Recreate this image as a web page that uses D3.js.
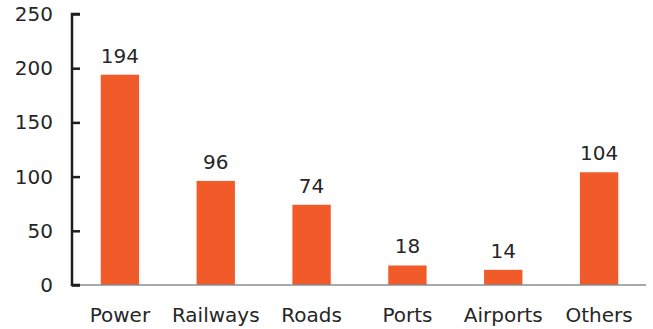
<!DOCTYPE html>
<html>
<head>
<meta charset="utf-8">
<script src="https://cdn.jsdelivr.net/npm/d3@7"></script>
<style>
  html, body { margin: 0; padding: 0; background: #fff; }
  svg { display: block; font-family: "DejaVu Sans", Verdana, sans-serif; }
</style>
</head>
<body>
<svg id="chart" width="653" height="329"></svg>
<script>
const categories = ["Power", "Railways", "Roads", "Ports", "Airports", "Others"];
const values = [194, 96, 74, 18, 14, 104];
const yTicks = [0, 50, 100, 150, 200, 250];

const svg = d3.select("#chart");
const margin = { left: 72, right: 6, top: 14, bottom: 44 };
const W = 653, H = 329;
const fontSize = 20;
const textColor = "#262626";

const x = d3.scaleBand()
  .domain(categories)
  .range([margin.left, W - margin.right])
  .paddingInner(0.6)
  .paddingOuter(0.3);

const y = d3.scaleLinear()
  .domain([0, 250])
  .range([H - margin.bottom, margin.top]);

// bars
svg.append("g")
  .selectAll("rect")
  .data(values)
  .join("rect")
  .attr("x", (d, i) => x(categories[i]))
  .attr("y", d => y(d))
  .attr("width", x.bandwidth())
  .attr("height", d => y(0) - y(d))
  .attr("fill", "#F15A29");

// value labels
svg.append("g")
  .selectAll("text")
  .data(values)
  .join("text")
  .attr("x", (d, i) => x(categories[i]) + x.bandwidth() / 2)
  .attr("y", d => y(d) - 12)
  .attr("text-anchor", "middle")
  .attr("font-size", fontSize)
  .attr("fill", textColor)
  .text(d => d);

// baseline
svg.append("line")
  .attr("x1", margin.left).attr("x2", W - 7)
  .attr("y1", y(0)).attr("y2", y(0))
  .attr("stroke", "#8c8c8c")
  .attr("stroke-width", 1.5);

// y axis with ticks pointing into the plot
const yAxis = d3.axisRight(y)
  .tickValues(yTicks)
  .tickSize(8)
  .tickFormat(() => "");
const gy = svg.append("g")
  .attr("transform", `translate(${margin.left},0)`)
  .call(yAxis);
gy.select(".domain").attr("stroke", "#1f1f1f").attr("stroke-width", 2.5)
  .attr("d", `M8,${y(250)}H0V${y(0)}H8`);
gy.selectAll(".tick line").attr("stroke", "#1f1f1f").attr("stroke-width", 2.5);

// y tick labels
svg.append("g")
  .selectAll("text")
  .data(yTicks)
  .join("text")
  .attr("x", margin.left - 19)
  .attr("y", d => y(d))
  .attr("dy", "0.35em")
  .attr("text-anchor", "end")
  .attr("font-size", fontSize)
  .attr("fill", textColor)
  .text(d => d);

// category labels
svg.append("g")
  .selectAll("text")
  .data(categories)
  .join("text")
  .attr("x", d => x(d) + x.bandwidth() / 2)
  .attr("y", 322)
  .attr("text-anchor", "middle")
  .attr("font-size", fontSize)
  .attr("fill", textColor)
  .text(d => d);
</script>
</body>
</html>
